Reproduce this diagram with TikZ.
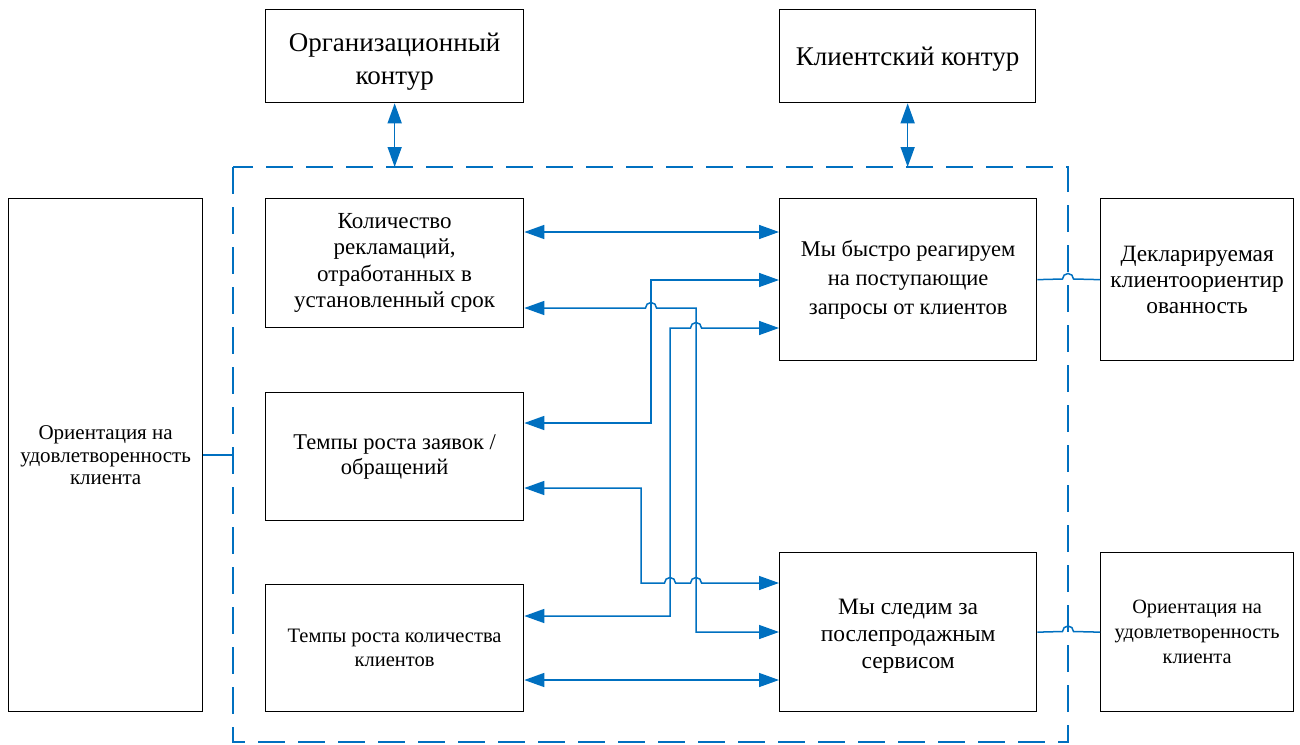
\documentclass[tikz,border=0pt]{standalone}
\usepackage{fontspec}
\setmainfont{Liberation Serif}
\usetikzlibrary{arrows.meta}
\definecolor{linkblue}{HTML}{0070C0}

% horizontal line hop (bump upwards) over a vertical line at x = #1, row y = #2
\newcommand{\hopR}[2]{-- (#1-5.5,#2) arc[start angle=180,end angle=360,radius=5.5]}
\newcommand{\fs}[2]{\fontsize{#1}{#2}\selectfont}

\begin{document}
\begin{tikzpicture}[x=1pt,y=-1pt,
  box/.style={draw=black,line width=1.3pt,anchor=north west,inner sep=0pt,align=center},
  link/.style={draw=linkblue,line width=1.5pt},
  tips/.style={{Triangle[length=20pt,width=14pt]}-{Triangle[length=20pt,width=14pt]}},
  frame/.style={draw=linkblue,line width=1.4pt,dash pattern=on 27pt off 13pt}]
\useasboundingbox (0,0) rectangle (1300,744);

% boxes
\node[box,minimum width=258,minimum height=93,font=\fs{27}{33}] (org) at (265,9)
  {\rule{0pt}{30pt}Организационный\\контур};
\node[box,minimum width=256,minimum height=93,font=\fs{27}{33}] (cli) at (779,9)
  {\rule{0pt}{24pt}Клиентский контур};
\node[box,minimum width=194,minimum height=513,font=\fs{21}{22.5}] (left) at (8,198)
  {Ориентация на\\удовлетворенность\\клиента};
\node[box,minimum width=258,minimum height=129,font=\fs{23}{26.5}] (b1) at (265,198)
  {Количество\\рекламаций,\\отработанных в\\установленный срок};
\node[box,minimum width=258,minimum height=128,font=\fs{22.5}{25}] (b2) at (265,392)
  {Темпы роста заявок /\\обращений};
\node[box,minimum width=258,minimum height=127,font=\fs{20.5}{24}] (b3) at (265,584)
  {Темпы роста количества\\клиентов};
\node[box,minimum width=257,minimum height=162,font=\fs{22.5}{29}] (ra) at (779,198)
  {Мы быстро реагируем\\на поступающие\\запросы от клиентов};
\node[box,minimum width=257,minimum height=159,font=\fs{23.5}{27}] (rb) at (779,552)
  {\rule{0pt}{24pt}Мы следим за\\послепродажным\\сервисом};
\node[box,minimum width=193,minimum height=162,font=\fs{23.4}{26}] (fa) at (1100,198)
  {Декларируемая\\клиентоориентир\\ованность};
\node[box,minimum width=193,minimum height=159,font=\fs{20.3}{25}] (fb) at (1100,552)
  {Ориентация на\\удовлетворенность\\клиента};

% dashed boundary
\draw[frame] (233,167) rectangle (1068,742);
\coordinate (ftop1) at (org.south |- 0,167);
\coordinate (ftop2) at (cli.south |- 0,167);
\coordinate (fleft) at (233,0 |- left.east);

% links to the outer contours
\draw[link,tips] (org.south) -- (ftop1);
\draw[link,tips] (cli.south) -- (ftop2);
\draw[link] (left.east) -- (fleft);
\draw[link] (ra.east) \hopR{1068}{279} -- (fa.west);
\draw[link] (rb.east) \hopR{1068}{631.5} -- (fb.west);

% inner links
\draw[link,tips] (b1.east |- 0,232) -- (ra.west |- 0,232);
\draw[link,tips] (b2.east |- 0,423) -- (651,423) -- (651,280) -- (ra.west |- 0,280);
\draw[link,tips] (b1.east |- 0,308) \hopR{651}{308} -- (696,308) -- (696,632) -- (rb.west |- 0,632);
\draw[link,tips] (b3.east |- 0,616) -- (670,616) -- (670,328) \hopR{696}{328} -- (ra.west |- 0,328);
\draw[link,tips] (b2.east |- 0,488) -- (641,488) -- (641,583) \hopR{670}{583} \hopR{696}{583} -- (rb.west |- 0,583);
\draw[link,tips] (b3.east |- 0,680) -- (rb.west |- 0,680);
\end{tikzpicture}
\end{document}
